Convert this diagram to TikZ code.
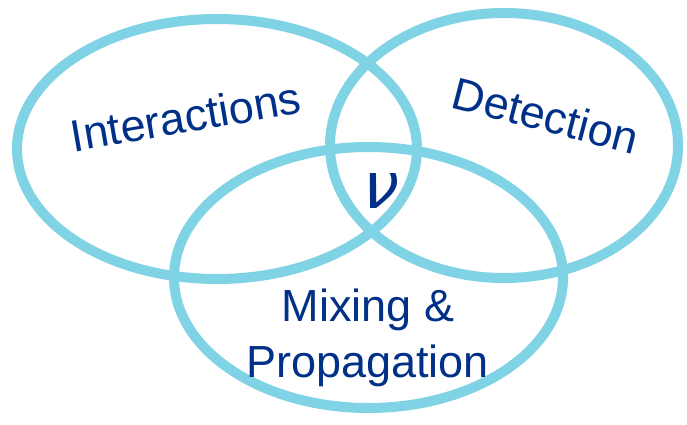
\documentclass[tikz,border=0pt]{standalone}
\usepackage{fontspec}
\setmainfont{Liberation Sans}
\newfontfamily\nufont[FakeSlant=0.3]{DejaVu Sans}
\definecolor{ringc}{RGB}{128,211,228}
\definecolor{txtc}{RGB}{0,48,135}
\begin{document}
\begin{tikzpicture}[x=1pt,y=-1pt,
  ring/.style={draw=ringc,line width=10pt},
  lbl/.style={text=txtc,font=\fontsize{45}{55}\selectfont,inner sep=0pt,anchor=base}]
\useasboundingbox (0,0) rectangle (687,425);
\draw[ring] (217,149) ellipse [x radius=200, y radius=130];
\draw[ring] (504,145.5) ellipse [x radius=174, y radius=132.5];
\draw[ring] (368.5,277.5) ellipse [x radius=194.5, y radius=130.5];
\node[lbl,rotate=9.7] (int) at (188.5,132.5) {Interactions};
\node[lbl,rotate=-14.5] (det) at (542,131) {Detection};
\node[lbl] (mix) at (368,321.7) {Mixing \&};
\node[lbl] (prop) at (367.5,377) {Propagation};
\node[lbl,font=\nufont\fontsize{64}{64}\selectfont] (nu) at (375,208) {ν};
\end{tikzpicture}
\end{document}
